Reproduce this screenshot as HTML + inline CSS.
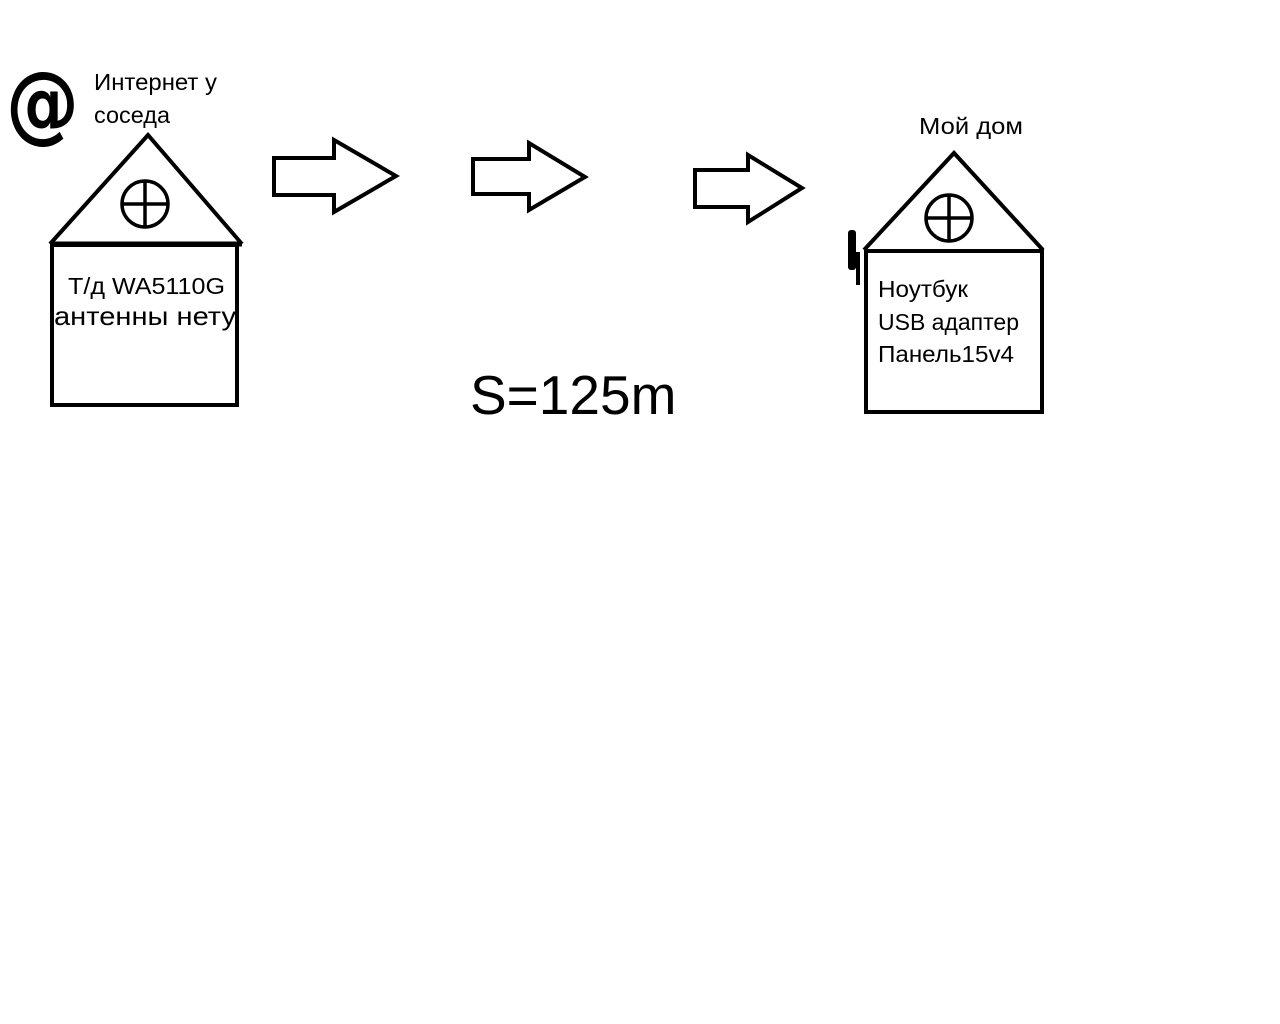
<!DOCTYPE html>
<html><head><meta charset="utf-8"><style>
html,body{margin:0;padding:0;background:#fff;}
svg{display:block;}
text{font-family:"Liberation Sans","DejaVu Sans",sans-serif;fill:#000;}
</style></head><body>
<svg width="1280" height="1024" viewBox="0 0 1280 1024" xmlns="http://www.w3.org/2000/svg">
<rect width="1280" height="1024" fill="#fff"/>
<g fill="none" stroke="#000" stroke-width="4" stroke-linejoin="miter">
  <polyline points="50,244 148,135 242,244"/>
  <line x1="50" y1="244" x2="242" y2="244" stroke-width="5"/>
  <rect x="52" y="245" width="185" height="160"/>
  <circle cx="145" cy="204" r="23" stroke-width="3.5"/>
  <line x1="145" y1="181" x2="145" y2="227" stroke-width="3.5"/>
  <line x1="122" y1="204" x2="168" y2="204" stroke-width="3.5"/>
  <polyline points="864,250 954,153 1043,250"/>
  <rect x="866" y="251" width="176" height="161"/>
  <circle cx="949" cy="218" r="23" stroke-width="3.5"/>
  <line x1="949" y1="195" x2="949" y2="241" stroke-width="3.5"/>
  <line x1="926" y1="218" x2="972" y2="218" stroke-width="3.5"/>
  <polygon points="274,158 334,158 334,140 396,176 334,212 334,195 274,195"/>
  <polygon points="473,159 529,159 529,143 585,177 529,210 529,194 473,194"/>
  <polygon points="695,170 748,170 748,155 802,188 748,222 748,207 695,207"/>
</g>
<rect x="848" y="230" width="8" height="40" rx="3" fill="#000"/>
<rect x="856" y="252" width="4" height="33" fill="#000"/>
<text x="6" y="132" font-size="86" font-weight="bold" style="font-family:'DejaVu Sans',sans-serif" textLength="73" lengthAdjust="spacingAndGlyphs">@</text>
<text x="94" y="90" font-size="23" textLength="123" lengthAdjust="spacingAndGlyphs">Интернет у</text>
<text x="94" y="123" font-size="23" textLength="76" lengthAdjust="spacingAndGlyphs">соседа</text>
<text x="68" y="294" font-size="23" textLength="157" lengthAdjust="spacingAndGlyphs">Т/д WA5110G</text>
<text x="54" y="325" font-size="26" textLength="182" lengthAdjust="spacingAndGlyphs">антенны нету</text>
<text x="919" y="134" font-size="23" textLength="104" lengthAdjust="spacingAndGlyphs">Мой дом</text>
<text x="878" y="297" font-size="23" textLength="90" lengthAdjust="spacingAndGlyphs">Ноутбук</text>
<text x="878" y="330" font-size="23" textLength="141" lengthAdjust="spacingAndGlyphs">USB адаптер</text>
<text x="878" y="362" font-size="23" textLength="136" lengthAdjust="spacingAndGlyphs">Панель15v4</text>
<text x="470" y="414" font-size="55">S=125m</text>
</svg>
</body></html>
